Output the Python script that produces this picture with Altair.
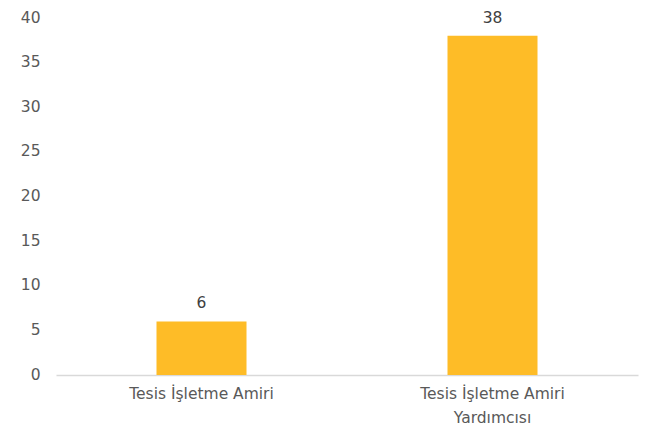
import altair as alt
import pandas as pd

categories = ["Tesis İşletme Amiri", "Tesis İşletme Amiri Yardımcısı"]
values = [6, 38]

df = pd.DataFrame({"category": categories, "value": values})

FONT = "DejaVu Sans"

base = alt.Chart(df).encode(
    x=alt.X(
        "category:N",
        sort=categories,
        title=None,
        scale=alt.Scale(paddingInner=0, paddingOuter=0),
        axis=alt.Axis(
            labelAngle=0,
            labelFont=FONT,
            labelFontSize=15.5,
            labelColor="#595959",
            labelPadding=11,
            labelLineHeight=24,
            labelExpr="datum.label == 'Tesis İşletme Amiri Yardımcısı' ? ['Tesis İşletme Amiri', 'Yardımcısı'] : datum.label",
            ticks=False,
            domainColor="#D9D9D9",
            domainWidth=1.5,
            grid=False,
        ),
    ),
    y=alt.Y(
        "value:Q",
        title=None,
        scale=alt.Scale(domain=[0, 40]),
        axis=alt.Axis(
            values=[0, 5, 10, 15, 20, 25, 30, 35, 40],
            labelFont=FONT,
            labelFontSize=15.5,
            labelColor="#595959",
            labelPadding=16,
            labelOffset=-1,
            ticks=False,
            domain=False,
            grid=False,
        ),
    ),
)

bars = base.mark_bar(size=90, color="#FEBC27")
labels = base.mark_text(
    font=FONT, fontSize=15.5, color="#404040", baseline="alphabetic", dy=-13
).encode(text="value:Q")

chart = (
    (bars + labels)
    .properties(
        width=582,
        height=357,
        padding={"left": 48, "top": 10, "right": 16, "bottom": 53},
        autosize=alt.AutoSizeParams(type="none"),
    )
    .configure_view(stroke=None)
)

chart.save("out.html", embed_options={"renderer": "svg", "actions": False})
